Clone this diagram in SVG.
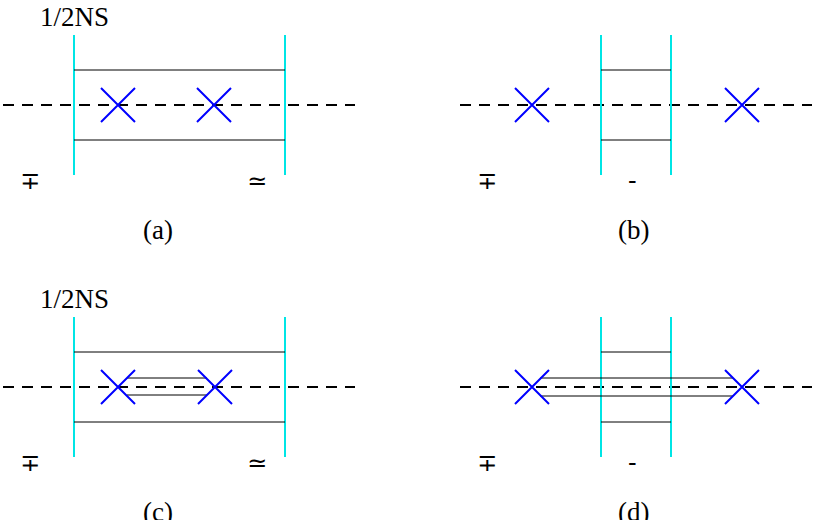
<svg xmlns="http://www.w3.org/2000/svg" width="817" height="520" viewBox="0 0 817 520">
<style>
.c{stroke:#00e5e5;stroke-width:2;fill:none}
.k{stroke:#000;stroke-width:1;fill:none}
.d{stroke:#000;stroke-width:2;stroke-dasharray:11,8;fill:none}
.x{stroke:#0000ff;stroke-width:2;fill:none}
text{font-family:"Liberation Serif",serif;font-size:27px;fill:#000}
.s{font-family:"DejaVu Sans",sans-serif;font-size:24px}
</style>
<rect width="817" height="520" fill="#fff"/>
<g id="panel-a">
<path class="d" d="M3 105H355"/>
<path class="c" d="M74 35V175M285 35V175"/>
<path class="k" d="M74 70H285M74 140H285"/>
<path class="x" d="M101 88l34 34M101 122l34-34M197 88l34 34M197 122l34-34"/>
<text x="40" y="26">1/2NS</text>
<text class="s" x="20" y="189">∓</text>
<text class="s" x="247" y="189">≃</text>
<text x="143" y="239">(a)</text>
</g>
<g id="panel-b">
<path class="d" d="M460 105H812"/>
<path class="c" d="M601 35V175M671 35V175"/>
<path class="k" d="M601 70H671M601 140H671"/>
<path class="x" d="M515 88l34 34M515 122l34-34M725 88l34 34M725 122l34-34"/>
<text class="s" x="477" y="189">∓</text>
<text class="s" x="628" y="189">-</text>
<text x="618" y="239">(b)</text>
</g>
<g id="panel-c">
<path class="d" d="M3 387H355"/>
<path class="c" d="M74 317V457M285 317V457"/>
<path class="k" d="M74 352H285M74 422H285M127 378H207M127 395H207"/>
<path class="x" d="M101 370l34 34M101 404l34-34M198 370l34 34M198 404l34-34"/>
<text x="40" y="308">1/2NS</text>
<text class="s" x="20" y="471">∓</text>
<text class="s" x="247" y="471">≃</text>
<text x="143" y="521">(c)</text>
</g>
<g id="panel-d">
<path class="d" d="M460 387H812"/>
<path class="c" d="M601 317V457M671 317V457"/>
<path class="k" d="M601 352H671M601 422H671M540 378H733M540 396H733"/>
<path class="x" d="M515 370l34 34M515 404l34-34M725 370l34 34M725 404l34-34"/>
<text class="s" x="477" y="471">∓</text>
<text class="s" x="628" y="471">-</text>
<text x="618" y="521">(d)</text>
</g>
</svg>
